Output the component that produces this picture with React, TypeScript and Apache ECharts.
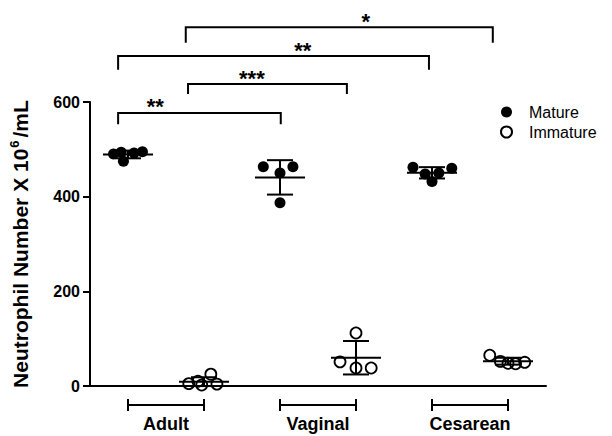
import React, { useEffect, useRef } from "react";
import * as echarts from "echarts";

// ---- data ----
const groups = ["Adult", "Vaginal", "Cesarean"];
const yTicks = [0, 200, 400, 600];

const matureAdult = [490, 494, 475, 492, 495];
const matureVaginal = [463, 463, 450, 387];
const matureCesarean = [462, 448, 432, 450, 460];

const immatureAdult = [5, 10, 2, 25, 4];
const immatureVaginal = [51, 38, 112, 38];
const immatureCesarean = [65, 52, 48, 47, 50];

// horizontal spread of the points inside a column (category units)
const spreadMatureAdult = [-0.19, -0.09, -0.06, 0.08, 0.19];
const spreadMatureVaginal = [-0.22, 0.17, 0, 0];
const spreadMatureCesarean = [-0.25, -0.09, 0, 0.09, 0.26];
const spreadImmatureAdult = [-0.2, -0.08, -0.03, 0.09, 0.17];
const spreadImmatureVaginal = [-0.21, 0, 0, 0.2];
const spreadImmatureCesarean = [-0.24, -0.1, 0, 0.1, 0.22];

// significance brackets (x in column units, y in axis units)
const sigFrom = [-0.13, 0.79, -0.13, 0.76];
const sigTo = [2.01, 2.88, 3.96, 4.8];
const sigLevel = [577, 638, 697, 758];
const sigLegEnd = [553, 617, 668, 725];
const sigLabelX = [0.36, 1.63, 2.3, 3.13];
const sigLabels = ["**", "***", "**", "*"];

const FONT = '"Liberation Sans", Arial, Helvetica, sans-serif';

function mean(a: number[]) {
  return a.reduce((s, v) => s + v, 0) / a.length;
}
function sd(a: number[]) {
  const m = mean(a);
  return Math.sqrt(a.reduce((s, v) => s + (v - m) * (v - m), 0) / (a.length - 1));
}

export default function App() {
  const ref = useRef<HTMLDivElement>(null);

  useEffect(() => {
    if (!ref.current) return;
    const chart = echarts.init(ref.current, null, { renderer: "svg" });

    const matureSets = [matureAdult, matureVaginal, matureCesarean];
    const immatureSets = [immatureAdult, immatureVaginal, immatureCesarean];
    const matureSpread = [spreadMatureAdult, spreadMatureVaginal, spreadMatureCesarean];
    const immatureSpread = [spreadImmatureAdult, spreadImmatureVaginal, spreadImmatureCesarean];

    const matureData: number[][] = [];
    const immatureData: number[][] = [];
    const barData: number[][] = [];
    groups.forEach((_, g) => {
      matureSets[g].forEach((v, i) => matureData.push([2 * g + matureSpread[g][i], v]));
      immatureSets[g].forEach((v, i) => immatureData.push([2 * g + 1 + immatureSpread[g][i], v]));
      barData.push([2 * g, mean(matureSets[g]), sd(matureSets[g])]);
      barData.push([2 * g + 1, mean(immatureSets[g]), sd(immatureSets[g])]);
    });

    const slotNames = groups.flatMap((g) => [g + " Mature", g + " Immature"]);

    const option: any = {
      animation: false,
      backgroundColor: "#fff",
      textStyle: { fontFamily: FONT },
      grid: { left: 89, right: 66, top: 102, bottom: 50, containLabel: false },
      legend: {
        orient: "vertical",
        left: 495,
        top: 99,
        itemWidth: 35,
        itemHeight: 11,
        itemGap: 4,
        data: ["Mature", "Immature"],
        textStyle: { fontSize: 16, color: "#000", fontFamily: FONT },
      },
      xAxis: [
        {
          type: "category",
          data: slotNames,
          boundaryGap: true,
          axisLine: { lineStyle: { color: "#000", width: 2 } },
          axisTick: { alignWithLabel: true, length: 7, lineStyle: { color: "#000", width: 2 } },
          axisLabel: { show: false },
          splitLine: { show: false },
        },
        {
          type: "value",
          min: -0.5,
          max: 5.5,
          show: false,
        },
      ],
      yAxis: {
        type: "value",
        min: 0,
        max: 600,
        interval: 200,
        name: "Neutrophil Number X 10{sup|6}/mL",
        nameLocation: "middle",
        nameRotate: 90,
        nameGap: 58,
        nameTextStyle: {
          fontSize: 21,
          fontWeight: "bold",
          color: "#000",
          fontFamily: FONT,
          rich: {
            sup: { fontSize: 13, fontWeight: "bold", color: "#000", fontFamily: FONT, padding: [0, 3, 11, 1] },
          },
        },
        axisLine: { show: true, onZero: false, lineStyle: { color: "#000", width: 2 } },
        axisTick: { show: true, length: 7, lineStyle: { color: "#000", width: 2 } },
        axisLabel: {
          fontSize: 16,
          fontWeight: "bold",
          color: "#000",
          margin: 10,
          fontFamily: FONT,
          formatter: (v: number) => (yTicks.includes(v) ? String(v) : ""),
        },
        splitLine: { show: false },
      },
      series: [
        {
          name: "Mature",
          type: "scatter",
          xAxisIndex: 1,
          symbol: "circle",
          symbolSize: 11,
          itemStyle: { color: "#000", opacity: 1 },
          data: matureData,
          z: 2,
        },
        {
          name: "Immature",
          type: "scatter",
          xAxisIndex: 1,
          symbol: "circle",
          symbolSize: 11,
          itemStyle: { color: "rgba(255,255,255,0)", borderColor: "#000", borderWidth: 1.8, opacity: 1 },
          data: immatureData,
          z: 2,
        },
        {
          name: "errorbars",
          type: "custom",
          xAxisIndex: 1,
          z: 3,
          silent: true,
          data: barData,
          renderItem: (_p: any, api: any) => {
            const x = api.value(0);
            const m = api.value(1);
            const s = api.value(2);
            const pm = api.coord([x, m]);
            const pu = api.coord([x, m + s]);
            const pl = api.coord([x, m - s]);
            const st = { stroke: "#000", lineWidth: 2 };
            return {
              type: "group",
              children: [
                { type: "line", shape: { x1: pm[0] - 25, y1: pm[1], x2: pm[0] + 25, y2: pm[1] }, style: st },
                { type: "line", shape: { x1: pu[0], y1: pu[1], x2: pl[0], y2: pl[1] }, style: st },
                { type: "line", shape: { x1: pu[0] - 13, y1: pu[1], x2: pu[0] + 13, y2: pu[1] }, style: st },
                { type: "line", shape: { x1: pl[0] - 13, y1: pl[1], x2: pl[0] + 13, y2: pl[1] }, style: st },
              ],
            };
          },
        },
        {
          name: "groups",
          type: "custom",
          xAxisIndex: 1,
          silent: true,
          clip: false,
          data: groups.map((_, g) => [2 * g, 2 * g + 1]),
          renderItem: (p: any, api: any) => {
            const a = api.coord([api.value(0), 0]);
            const b = api.coord([api.value(1), 0]);
            const y = a[1] + 19;
            const st = { stroke: "#000", lineWidth: 2 };
            return {
              type: "group",
              children: [
                { type: "line", shape: { x1: a[0], y1: y, x2: b[0], y2: y }, style: st },
                { type: "line", shape: { x1: a[0], y1: y - 6, x2: a[0], y2: y + 6 }, style: st },
                { type: "line", shape: { x1: b[0], y1: y - 6, x2: b[0], y2: y + 6 }, style: st },
                {
                  type: "text",
                  style: {
                    text: groups[p.dataIndex],
                    x: (a[0] + b[0]) / 2,
                    y: a[1] + 38,
                    align: "center",
                    verticalAlign: "middle",
                    fontSize: 18,
                    fontWeight: "bold",
                    fontFamily: FONT,
                    fill: "#000",
                  },
                },
              ],
            };
          },
        },
        {
          name: "significance",
          type: "custom",
          xAxisIndex: 1,
          silent: true,
          clip: false,
          data: sigLabels.map((_, i) => [sigFrom[i], sigTo[i], sigLevel[i], sigLegEnd[i], sigLabelX[i]]),
          renderItem: (p: any, api: any) => {
            const l = api.coord([api.value(0), api.value(2)]);
            const r = api.coord([api.value(1), api.value(2)]);
            const legEnd = api.coord([api.value(0), api.value(3)])[1];
            const lab = api.coord([api.value(4), api.value(2)]);
            const st = { stroke: "#000", lineWidth: 2 };
            return {
              type: "group",
              children: [
                { type: "polyline", shape: { points: [[l[0], legEnd], [l[0], l[1]], [r[0], r[1]], [r[0], legEnd]] }, style: { ...st, fill: "none" } },
                {
                  type: "text",
                  style: {
                    text: sigLabels[p.dataIndex],
                    x: lab[0],
                    y: l[1] - 6,
                    align: "center",
                    verticalAlign: "middle",
                    fontSize: 22,
                    fontWeight: "bold",
                    fontFamily: FONT,
                    fill: "#000",
                  },
                },
              ],
            };
          },
        },
      ],
    };

    chart.setOption(option);
    return () => chart.dispose();
  }, []);

  return (
    <div
      ref={ref}
      style={{ position: "fixed", left: 0, top: 0, width: 612, height: 436, background: "#fff" }}
    />
  );
}
